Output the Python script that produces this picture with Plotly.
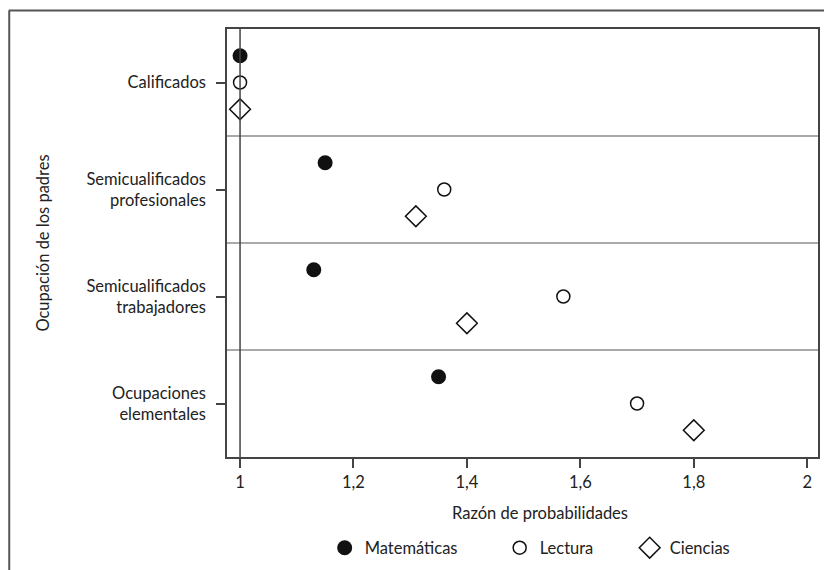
import plotly.graph_objects as go

categories = ["Calificados", "Semicualificados<br>profesionales", "Semicualificados<br>trabajadores", "Ocupaciones<br>elementales"]
cat_pos = [4, 3, 2, 1]
matematicas = [1.00, 1.15, 1.13, 1.35]
lectura = [1.00, 1.36, 1.57, 1.70]
ciencias = [1.00, 1.31, 1.40, 1.80]
x_ticks = [1, 1.2, 1.4, 1.6, 1.8, 2]
x_ticktext = ["1", "1,2", "1,4", "1,6", "1,8", "2"]

FONT = "Lato"
FS = 16.5
LC = "#444444"
TXT = "#222222"

fig = go.Figure()
fig.add_trace(go.Scatter(x=matematicas, y=[p + 0.25 for p in cat_pos], mode="markers", name="Matemáticas",
                         legendwidth=130,
                         marker=dict(symbol="circle", size=15, color="#111111", line=dict(width=0))))
fig.add_trace(go.Scatter(x=lectura, y=cat_pos, mode="markers", name="Lectura",
                         legendwidth=85,
                         marker=dict(symbol="circle-open", size=13, color="#111111", line=dict(width=1.5))))
fig.add_trace(go.Scatter(x=ciencias, y=[p - 0.25 for p in cat_pos], mode="markers", name="Ciencias",
                         marker=dict(symbol="diamond-open", size=16, color="#111111", line=dict(width=1.5))))

shapes = []
for yv in [1.5, 2.5, 3.5]:
    shapes.append(dict(type="line", xref="paper", yref="y", x0=0, x1=1, y0=yv, y1=yv,
                       line=dict(color="#555555", width=1.2)))
shapes.append(dict(type="line", xref="x", yref="paper", x0=1, x1=1, y0=0, y1=1,
                   line=dict(color=LC, width=1.5)))
# outer frame (top and left)
shapes.append(dict(type="line", xref="paper", yref="paper", x0=(8 - 227) / 593, x1=(830 - 227) / 593,
                   y0=(457 - 10.5) / 428, y1=(457 - 10.5) / 428, line=dict(color="#555555", width=2)))
shapes.append(dict(type="line", xref="paper", yref="paper", x0=(8.5 - 227) / 593, x1=(8.5 - 227) / 593,
                   y0=(457 - 10.5) / 428, y1=(457 - 580) / 428, line=dict(color="#555555", width=2)))

fig.update_layout(
    width=824, height=570,
    margin=dict(l=227, r=4, t=29, b=113),
    plot_bgcolor="white", paper_bgcolor="white",
    font=dict(family=FONT, size=FS, color=TXT),
    showlegend=True,
    legend=dict(orientation="h", x=(325 - 227) / 593, xanchor="left", y=(457 - 548) / 428, yanchor="middle",
                font=dict(size=FS), itemwidth=30, tracegroupgap=0, bgcolor="rgba(0,0,0,0)"),
    xaxis=dict(range=[0.977, 2.019], tickvals=x_ticks, ticktext=x_ticktext,
               ticks="outside", ticklen=9, tickcolor=LC, tickwidth=1.5,
               showline=True, linecolor=LC, linewidth=1.5, mirror=True,
               showgrid=False, zeroline=False, tickfont=dict(size=FS)),
    yaxis=dict(range=[0.5, 4.5], tickvals=cat_pos, ticktext=categories,
               ticks="outside", ticklen=9, tickcolor=LC, tickwidth=1.5, ticklabelstandoff=7,
               showline=True, linecolor=LC, linewidth=1.5, mirror=True,
               showgrid=False, zeroline=False, tickfont=dict(size=FS)),
    shapes=shapes,
    annotations=[
        dict(text="Razón de probabilidades", xref="paper", yref="paper", x=(541 - 227) / 593, y=(457 - 513) / 428,
             xanchor="center", yanchor="middle", showarrow=False, font=dict(size=FS)),
        dict(text="Ocupación de los padres", xref="paper", yref="paper", x=(42 - 227) / 593, y=0.5,
             xanchor="center", yanchor="middle", textangle=-90, showarrow=False, font=dict(size=FS)),
    ],
)

fig.write_html("out.html", config={"displayModeBar": False},
               post_script="document.body.style.margin='0';")
